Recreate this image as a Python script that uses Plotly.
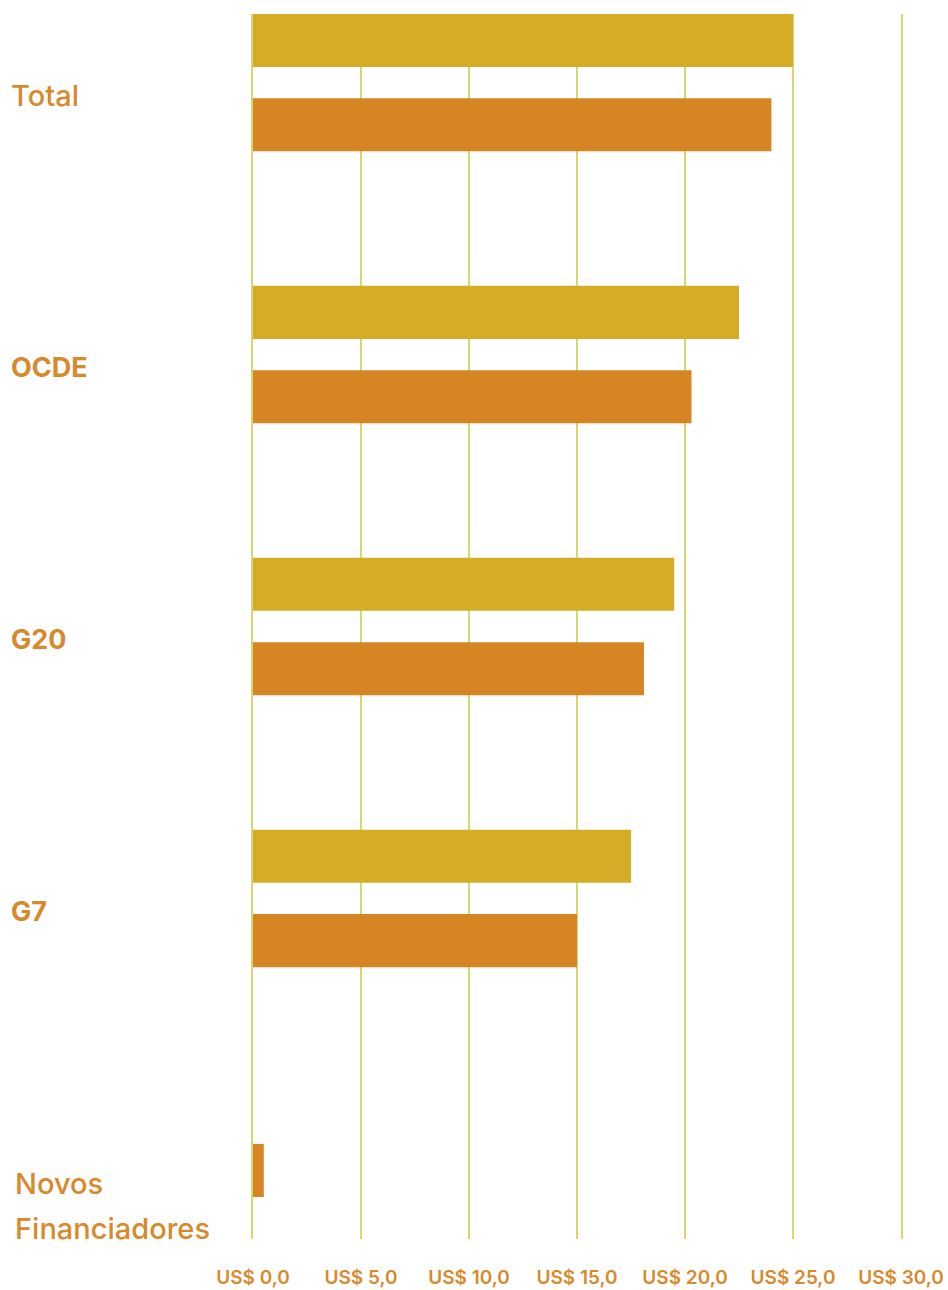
import plotly.graph_objects as go

categories = ["Total", "OCDE", "G20", "G7", "Novos Financiadores"]
series_a = [25.0, 22.5, 19.5, 17.5, None]   # yellow
series_b = [24.0, 20.3, 18.1, 15.0, 0.5]    # orange
tick_values = [0, 5, 10, 15, 20, 25, 30]
tick_labels = ["US$ 0,0", "US$ 5,0", "US$ 10,0", "US$ 15,0", "US$ 20,0", "US$ 25,0", "US$ 30,0"]

YELLOW = "#D5AC26"
ORANGE = "#D58524"
GRID = "#D8D572"
TEXT = "#D8892C"
FONT = "Inter"

ML, MR, MT, MB = 253, 47, 14, 51

# bar geometry in category units
BAR_W = 0.195
GAP_HALF = 0.155  # distance between bar centres in a pair / 2
off_a = [-GAP_HALF - BAR_W / 2] * len(categories)
# when a category has only one bar it is centred
off_b = [(GAP_HALF if a is not None else 0) - BAR_W / 2 for a in series_a]

fig = go.Figure()
fig.add_trace(go.Bar(y=categories, x=series_a, orientation="h", width=BAR_W, offset=off_a,
                     marker=dict(color=YELLOW, line=dict(width=0)), showlegend=False))
fig.add_trace(go.Bar(y=categories, x=series_b, orientation="h", width=BAR_W, offset=off_b,
                     marker=dict(color=ORANGE, line=dict(width=0)), showlegend=False))

label_styles = {
    "Total": dict(size=29, weight=500, dx=9),
    "OCDE": dict(size=27, weight=700, dx=9),
    "G20": dict(size=27, weight=700, dx=9),
    "G7": dict(size=27, weight=700, dx=9),
}
for cat in categories[:4]:
    st = label_styles[cat]
    fig.add_annotation(x=0, xref="paper", y=cat, yref="y", text=cat, showarrow=False,
                       xanchor="left", yanchor="middle", xshift=st["dx"] - ML, yshift=-13,
                       font=dict(family=FONT, size=st["size"], color=TEXT, weight=st["weight"]))
nf_lines = categories[4].split(" ")
for i, line in enumerate(nf_lines):
    fig.add_annotation(x=0, xref="paper", y=categories[4], yref="y", text=line, showarrow=False,
                       xanchor="left", yanchor="middle", xshift=13 - ML, yshift=-13 - 45 * i,
                       font=dict(family=FONT, size=29, color=TEXT, weight=500))

fig.update_layout(
    width=948, height=1290,
    margin=dict(l=ML, r=MR, t=MT, b=MB, pad=0),
    paper_bgcolor="white", plot_bgcolor="white",
    barmode="overlay",
    font=dict(family=FONT, color=TEXT),
    xaxis=dict(range=[0, 30], tickvals=tick_values, ticktext=tick_labels,
               showgrid=True, gridcolor=GRID, gridwidth=2, zeroline=False,
               showline=False, ticks="", ticklabelstandoff=25, automargin=False,
               tickfont=dict(family=FONT, size=19, color=TEXT, weight=600)),
    yaxis=dict(range=[4.252, -0.252], showticklabels=False, showgrid=False,
               zeroline=False, showline=True, mirror=True, linecolor=GRID, linewidth=2,
               ticks="", automargin=False),
)

fig.write_html("out.html")
